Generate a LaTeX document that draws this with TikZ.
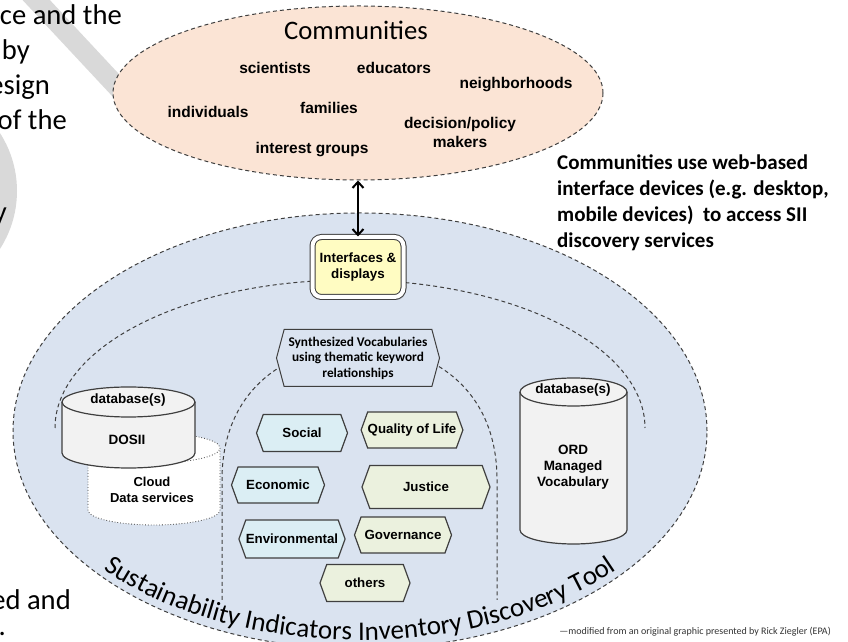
\documentclass[tikz,border=0pt]{standalone}
\usepackage{fontspec}
\setmainfont{Carlito}
\newfontfamily\arialfont{Liberation Sans}
\usetikzlibrary{shapes.geometric,shapes.symbols,shadows,arrows.meta,decorations.text}

\definecolor{peach}{HTML}{FBE4D5}
\definecolor{siiblue}{HTML}{DAE3F0}
\definecolor{hexcyan}{HTML}{DBEEF4}
\definecolor{hexolive}{HTML}{EBF1DE}
\definecolor{ifyellow}{HTML}{FFFCC2}
\definecolor{dbgray}{HTML}{F2F2F2}
\definecolor{bandgray}{HTML}{D9D9D9}
\definecolor{linegray}{HTML}{3F3F3F}

% #1 style, #2 centre x, #3 half width, #4 top ellipse y, #5 bottom ellipse y, #6 ellipse y radius
\newcommand{\dbcylinder}[6]{%
  \path[#1] (#2-#3,#4) -- (#2-#3,#5) arc[start angle=180, end angle=360, x radius=#3, y radius=#6]
    -- (#2+#3,#4) arc[start angle=0, end angle=180, x radius=#3, y radius=#6] -- cycle;
  \path[#1, fill=none] (#2-#3,#4) arc[start angle=180, end angle=360, x radius=#3, y radius=#6];
}

\tikzset{
  slidetext/.style={anchor=base east, inner sep=0, font=\fontsize{28.6}{35}\selectfont},
  commlabel/.style={inner sep=0, align=center, font=\arialfont\bfseries\fontsize{15.5}{19}\selectfont},
  dashline/.style={draw=linegray, line width=1pt, dash pattern=on 4pt off 3pt},
  hexbox/.style={shape=signal, signal to=west and east, signal pointer angle=140, draw=linegray, line width=1.2pt, inner sep=0, font=\arialfont\bfseries\fontsize{13.3}{15}\selectfont},
  hexcyanbox/.style={hexbox, fill=hexcyan},
  hexolivebox/.style={hexbox, fill=hexolive},
  dbbody/.style={draw=linegray, line width=1.2pt, fill=dbgray},
  dbcloud/.style={draw=linegray, line width=0.8pt, dotted, fill=white},
  dbtext/.style={inner sep=0, align=center, font=\arialfont\bfseries\fontsize{13.5}{16}\selectfont},
}

\begin{document}
\begin{tikzpicture}[x=1pt,y=1pt]
\useasboundingbox (0,0) rectangle (848,642);
\clip (0,0) rectangle (848,642);

\draw[bandgray, line width=20pt] (25,654) -- (150,520);
\fill[bandgray] (-90,451) circle[radius=107];

\node[slidetext] (frag1) at (122,617) {ce and the};
\node[slidetext] (frag2) at (30,582) {by};
\node[slidetext] (frag3) at (50,547) {esign};
\node[slidetext] (frag4) at (67,512) {of the};
\node[slidetext] (frag5) at (7,420) {y};
\node[slidetext] (frag6) at (71,32) {ed and};
\node[slidetext] (frag7) at (6,6) {.};

\node[ellipse, dashline, fill=peach, minimum width=490pt, minimum height=174pt] (comm) at (358,549) {};
\node[inner sep=0, font=\fontsize{26.7}{30}\selectfont] (commtitle) at (356,612) {Communities};
\node[commlabel] (scientists) at (275,574) {scientists};
\node[commlabel] (educators) at (394,574) {educators};
\node[commlabel] (neighborhoods) at (516,557) {neighborhoods};
\node[commlabel] (individuals) at (208,530) {individuals};
\node[commlabel] (families) at (329,534) {families};
\node[commlabel] (policy) at (460,510) {decision/policy\\makers};
\node[commlabel] (interest) at (312,492) {interest groups};

\node[ellipse, dashline, fill=siiblue, minimum width=694pt, minimum height=436pt] (sii) at (360,211) {};
\draw[dashline] (55,214) arc[start angle=180, end angle=0, x radius=295, y radius=148];
\draw[dashline] (222,42) -- (222,162) .. controls (222,262) and (300,297) .. (360,297) .. controls (420,297) and (497,262) .. (497,162) -- (497,42);

\node[draw=linegray, line width=1pt, double=white, double distance=4pt, fill=ifyellow, rounded corners=9pt,
  minimum width=91pt, minimum height=60pt, align=center, font=\arialfont\bfseries\fontsize{13.4}{15.5}\selectfont,
  drop shadow={opacity=0.35, shadow xshift=2pt, shadow yshift=-3pt}] (iface) at (358,375) {Interfaces \&\\displays};
\draw[{Straight Barb[length=6pt,width=11pt]}-{Straight Barb[length=6pt,width=11pt]}, line width=2pt] (comm.south) -- (iface.north);

\node[shape=signal, signal to=west and east, signal pointer angle=150, draw=linegray, line width=1pt, fill=siiblue,
  inner sep=0, minimum width=163pt, minimum height=57pt, align=center,
  font=\bfseries\fontsize{13.3}{15.5}\selectfont] (synth) at (358,284) {Synthesized Vocabularies\\using thematic keyword\\relationships};

\node[hexcyanbox, minimum width=91pt, minimum height=37pt] (social) at (302,209) {Social};
\node[hexolivebox, minimum width=101pt, minimum height=36pt] (quality) at (412,212) {Quality of Life};
\node[hexcyanbox, minimum width=93pt, minimum height=36pt] (economic) at (278,157) {Economic};
\node[hexolivebox, minimum width=128pt, minimum height=43pt] (justice) at (426,155) {Justice};
\node[hexcyanbox, minimum width=105pt, minimum height=38pt] (environmental) at (292,103) {Environmental};
\node[hexolivebox, minimum width=97pt, minimum height=36pt] (governance) at (403,107) {Governance};
\node[hexolivebox, minimum width=90pt, minimum height=37pt] (others) at (365,59) {others};

\dbcylinder{dbcloud}{154}{66}{194}{132}{15}
\dbcylinder{dbbody}{128.5}{66.5}{240}{189}{15}
\dbcylinder{dbbody}{573.5}{53.5}{250}{112}{14}
\node[dbtext] (dosiitop) at (128,242) {database(s)};
\node[dbtext] (dosiiname) at (127,202) {DOSII};
\node[dbtext, font=\arialfont\bfseries\fontsize{13}{15.5}\selectfont] (cloudname) at (152,152) {Cloud\\Data services};
\node[dbtext] (ordtop) at (573,252) {database(s)};
\node[dbtext] (ordname) at (573,175) {ORD\\Managed\\Vocabulary};

\path[decorate, decoration={text along path, text align=center,
  text={|\fontsize{27}{30}\selectfont|Sustainability Indicators Inventory Discovery Tool}}]
  ([shift={(360,211)}]200:343 and 209) arc[start angle=200, end angle=340, x radius=343, y radius=209];

\node[anchor=west, inner sep=0, align=left, font=\bfseries\fontsize{21}{26}\selectfont] (usage) at (557,439)
  {Communities use web-based\\interface devices (e.g. desktop,\\mobile devices)\ \ to access SII\\discovery services};
\node[anchor=base east, inner sep=0, font=\fontsize{10}{12}\selectfont, text=black!80] (credit) at (831,7)
  {---modified from an original graphic presented by Rick Ziegler (EPA)};
\end{tikzpicture}
\end{document}
